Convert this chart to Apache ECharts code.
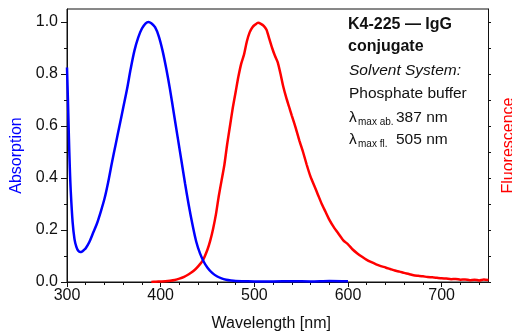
<!DOCTYPE html>
<html><head><meta charset="utf-8">
<script src="https://cdn.jsdelivr.net/npm/echarts@6/dist/echarts.min.js"></script>
<style>html,body{margin:0;padding:0;background:#fff}#c{width:512px;height:332px}</style>
</head><body><div id="c"></div>
<script>
const absWavelength = [300,301,302,303,304,306,308,310,312,314,316,318,320,324,328,332,336,340,344,348,352,356,360,364,368,372,376,380,384,387,390,394,398,402,406,410,414,418,422,426,430,434,438,442,446,450,455,460,465,470,475,480,490,500,520,540,560,580,600];
const absorption = [0.825,0.70,0.56,0.44,0.35,0.23,0.165,0.135,0.12,0.115,0.117,0.123,0.13,0.155,0.19,0.225,0.27,0.32,0.385,0.46,0.53,0.60,0.67,0.74,0.82,0.89,0.94,0.975,0.995,1.0,0.995,0.98,0.945,0.89,0.82,0.74,0.65,0.56,0.47,0.38,0.295,0.22,0.155,0.11,0.078,0.055,0.035,0.022,0.014,0.009,0.006,0.004,0.003,0.002,0.002,0.003,0.002,0.004,0.003];
const flWavelength = [390,395,400,405,410,415,420,425,430,435,440,445,450,453,456,459,462,465,468,471,474,477,480,483,486,489,492,495,498,501,504,507,510,513,516,519,522,525,528,531,534,537,540,544,548,552,556,560,564,568,572,576,580,585,590,595,600,605,610,615,620,625,630,635,640,645,650,655,660,665,670,675,680,685,690,695,700,705,710,715,720,725,730,735,740,745,750];
const fluorescence = [0.0,0.001,0.002,0.003,0.005,0.008,0.013,0.02,0.03,0.042,0.06,0.083,0.125,0.16,0.205,0.26,0.33,0.39,0.45,0.53,0.60,0.67,0.73,0.79,0.84,0.875,0.925,0.96,0.98,0.99,0.997,0.993,0.985,0.97,0.935,0.90,0.87,0.845,0.80,0.75,0.71,0.675,0.64,0.595,0.545,0.50,0.45,0.405,0.37,0.335,0.30,0.27,0.24,0.21,0.185,0.16,0.145,0.125,0.11,0.097,0.085,0.076,0.068,0.061,0.056,0.05,0.044,0.04,0.035,0.031,0.026,0.024,0.022,0.019,0.018,0.016,0.014,0.013,0.011,0.012,0.009,0.01,0.007,0.009,0.006,0.01,0.008];
const xTicks = [300,400,500,600,700];
const yTicks = [0,0.2,0.4,0.6,0.8,1.0];
const yTicksRight = [0,0.1,0.2,0.3,0.4,0.5,0.6,0.7,0.8,0.9,1.0];
const xName = 'Wavelength [nm]';
const yNameLeft = 'Absorption';
const yNameRight = 'Fluorescence';
const noteTitle = ['K4-225 — IgG', 'conjugate'];
const noteSolvent = 'Solvent System:';
const noteBuffer = 'Phosphate buffer';
const noteLambda = [['max ab.', '387 nm'], ['max fl.', '505 nm']];

const FONT = "'Liberation Sans', Arial, sans-serif";
const pair = (xs, ys) => xs.map((x, i) => [x, ys[i]]);
const axisLine = {show: true, lineStyle: {color: '#111', width: 1}};
const chart = echarts.init(document.getElementById('c'), null, {renderer: 'canvas'});
const tx = (text, x, y, size, extra) => Object.assign({type: 'text', x: x, y: y, silent: true,
  style: Object.assign({text: text, fontSize: size, fontFamily: FONT, fill: '#111', verticalAlign: 'middle', align: 'left'}, extra || {})});

chart.setOption({
  animation: false,
  grid: {left: 67, right: 23.5, top: 9, bottom: 50, show: true, borderColor: '#111', borderWidth: 1,
    backgroundColor: 'transparent', containLabel: false, outerBoundsMode: 'none'},
  xAxis: {
    type: 'value', min: 300, max: 750, interval: 100,
    name: xName, nameLocation: 'middle', nameGap: 34,
    nameTextStyle: {fontSize: 16, fontFamily: FONT, color: '#111', padding: [0, 13, 0, 0]},
    axisLine: axisLine,
    axisTick: {show: true, inside: false, length: 5, customValues: xTicks, lineStyle: {color: '#111'}},
    minorTick: {show: true, splitNumber: 5, length: 3, lineStyle: {color: '#111'}},
    axisLabel: {customValues: xTicks, fontSize: 16, fontFamily: FONT, color: '#111', margin: 6},
    splitLine: {show: false}, minorSplitLine: {show: false}
  },
  yAxis: [{
    type: 'value', min: 0, max: 1.05, interval: 0.2, position: 'left',
    name: yNameLeft, nameLocation: 'middle', nameGap: 41,
    nameTextStyle: {fontSize: 16, fontFamily: FONT, color: '#0000ff', padding: [0, 20, 0, 0]},
    axisLine: axisLine,
    axisTick: {show: true, inside: false, length: 6, customValues: yTicks, lineStyle: {color: '#111'}},
    minorTick: {show: true, splitNumber: 2, length: 3, lineStyle: {color: '#111'}},
    axisLabel: {customValues: yTicks, fontSize: 16, fontFamily: FONT, color: '#111', margin: 9,
      formatter: v => v.toFixed(1)},
    splitLine: {show: false}, minorSplitLine: {show: false}
  }, {
    type: 'value', min: 0, max: 1.05, interval: 0.2, position: 'right',
    name: yNameRight, nameLocation: 'middle', nameGap: 12,
    nameTextStyle: {fontSize: 16, fontFamily: FONT, color: '#ff0000'},
    axisLine: axisLine,
    axisTick: {show: true, inside: false, length: 2.5, customValues: yTicksRight, lineStyle: {color: '#111'}},
    minorTick: {show: false},
    axisLabel: {show: false},
    splitLine: {show: false}
  }],
  series: [{
    type: 'line', name: yNameLeft, yAxisIndex: 0, data: pair(absWavelength, absorption),
    showSymbol: false, smooth: 0.3, lineStyle: {color: '#0000ff', width: 2.5}, itemStyle: {color: '#0000ff'}, z: 3
  }, {
    type: 'line', name: yNameRight, yAxisIndex: 1, data: pair(flWavelength, fluorescence),
    showSymbol: false, smooth: 0.2, lineStyle: {color: '#ff0000', width: 2.5}, itemStyle: {color: '#ff0000'}, z: 2
  }],
  graphic: [
    tx(noteTitle[0], 348, 25, 16, {fontWeight: 'bold'}),
    tx(noteTitle[1], 348, 47, 16, {fontWeight: 'bold'}),
    tx(noteSolvent, 349, 70.5, 15.5, {fontStyle: 'italic'}),
    tx(noteBuffer, 349, 93.5, 15.5),
    tx('λ', 349, 118, 15.5),
    tx(noteLambda[0][0], 358, 122.5, 10),
    tx(noteLambda[0][1], 396, 118, 15.5),
    tx('λ', 349, 139.5, 15.5),
    tx(noteLambda[1][0], 358, 144, 10),
    tx(noteLambda[1][1], 396, 139.5, 15.5)
  ]
});
</script>
</body></html>
